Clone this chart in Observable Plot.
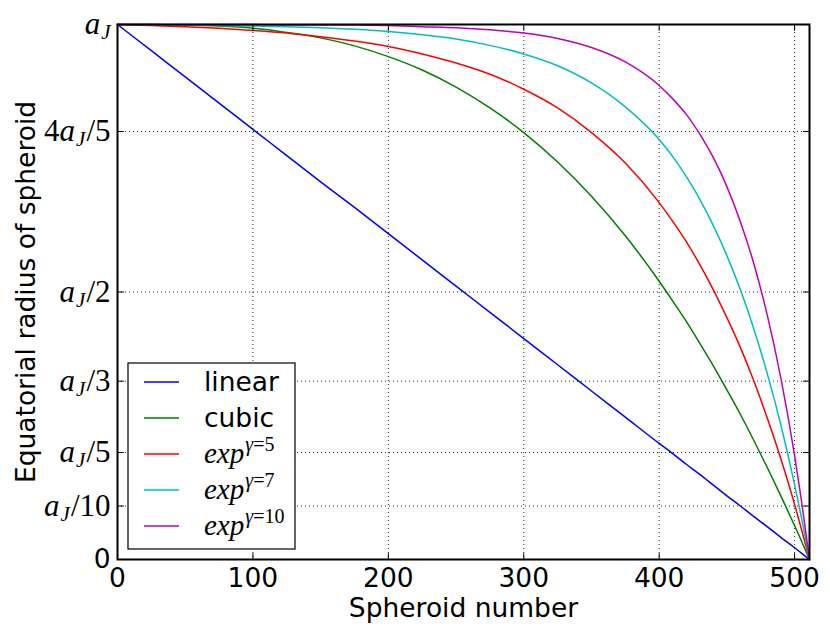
<!DOCTYPE html>
<html><head><meta charset="utf-8">
<script src="https://cdn.jsdelivr.net/npm/d3@7"></script>
<script src="https://cdn.jsdelivr.net/npm/@observablehq/plot@0.6"></script>
<style>body{margin:0;background:#fff;} svg{display:block}</style>
</head><body>
<script>
const spheroid = [0,25,50,75,100,125,150,175,200,225,250,275,300,325,350,375,400,410,420,430,440,450,460,470,480,490,500,505,511];
const linear = [1,0.951,0.902,0.853,0.804,0.755,0.706,0.658,0.609,0.560,0.511,0.462,0.413,0.364,0.315,0.266,0.217,0.198,0.178,0.159,0.139,0.119,0.100,0.080,0.061,0.041,0.022,0.012,0];
const cubic = [1,1.000,0.999,0.997,0.993,0.985,0.975,0.960,0.940,0.915,0.883,0.844,0.798,0.743,0.679,0.605,0.520,0.483,0.445,0.404,0.362,0.317,0.271,0.222,0.171,0.118,0.063,0.035,0];
const exp5 = [1,0.998,0.996,0.993,0.989,0.984,0.977,0.969,0.959,0.945,0.928,0.907,0.879,0.844,0.798,0.741,0.667,0.632,0.594,0.551,0.504,0.452,0.396,0.333,0.263,0.187,0.103,0.057,0];
const exp7 = [1,1.000,0.999,0.998,0.997,0.996,0.994,0.991,0.987,0.981,0.973,0.961,0.945,0.923,0.891,0.846,0.785,0.753,0.716,0.673,0.624,0.568,0.504,0.430,0.346,0.250,0.140,0.079,0];
const exp10 = [1,1.000,1.000,1.000,1.000,0.999,0.999,0.999,0.998,0.996,0.994,0.990,0.984,0.974,0.957,0.930,0.886,0.861,0.832,0.795,0.751,0.697,0.631,0.552,0.455,0.337,0.194,0.111,0];

const seriesNames = ["linear","cubic","exp5","exp7","exp10"];
const seriesColors = ["#0000ff","#008000","#ff0000","#00bfbf","#bf00bf"];
const legendLabels = ["linear","cubic","exp^γ=5","exp^γ=7","exp^γ=10"];
const xTicks = [0,100,200,300,400,500];
const yTicks = [0,0.1,0.2,1/3,0.5,0.8,1];
const yTickLabels = ["0","a_J/10","a_J/5","a_J/3","a_J/2","4a_J/5","a_J"];
const xLabel = "Spheroid number";
const yLabel = "Equatorial radius of spheroid";

const seriesValues = [linear, cubic, exp5, exp7, exp10];
const table = [];
seriesValues.forEach((vals, s) => vals.forEach((v, i) => table.push({x: spheroid[i], y: v, series: seriesNames[s]})));

const FS = 26.5;
const tickShape = {draw(ctx, l) { ctx.moveTo(0, 0); ctx.lineTo(0, -l); }};
const gridStyle = {stroke: "black", strokeOpacity: 0.85, strokeDasharray: "1,3", strokeWidth: 1};
const tickStyle = {length: 6, anchor: "start", shape: tickShape, stroke: "black", strokeWidth: 1};

const plot = Plot.plot({
  width: 830, height: 637,
  marginTop: 24, marginRight: 21, marginBottom: 78, marginLeft: 117,
  style: {fontFamily: "DejaVu Sans", fontSize: FS + "px", color: "black", background: "white"},
  x: {domain: [0, 511]},
  y: {domain: [0, 1]},
  color: {domain: seriesNames, range: seriesColors},
  marks: [
    Plot.gridX(xTicks.slice(1), gridStyle),
    Plot.gridY(yTicks.slice(1, -1), gridStyle),
    Plot.line(table, {x: "x", y: "y", z: "series", stroke: "series", strokeWidth: 1.5, curve: "monotone-x"}),
    Plot.vector(xTicks, {x: d => d, y: 0, rotate: 0, ...tickStyle}),
    Plot.vector(xTicks, {x: d => d, y: 1, rotate: 180, ...tickStyle}),
    Plot.vector(yTicks, {y: d => d, x: 0, rotate: 90, ...tickStyle}),
    Plot.vector(yTicks, {y: d => d, x: 511, rotate: -90, ...tickStyle}),
    Plot.frame({stroke: "black", strokeWidth: 2}),
    Plot.axisX(xTicks, {tickSize: 0, tickPadding: 9, label: null, fontSize: FS}),
    Plot.axisY(yTicks, {tickSize: 0, tickPadding: 7, label: null, fontSize: FS,
      tickFormat: d => yTickLabels[yTicks.indexOf(d)]}),
    Plot.text([xLabel], {frameAnchor: "bottom", lineAnchor: "middle", textAnchor: "middle", dy: 49, fontSize: FS}),
    Plot.text([yLabel], {frameAnchor: "left", lineAnchor: "middle", textAnchor: "middle", dx: -91, rotate: -90, fontSize: FS})
  ]
});
document.body.appendChild(plot);

const svg = d3.select(plot.tagName.toLowerCase() === "svg" ? plot : plot.querySelector("svg"));

// math-style y tick labels
svg.selectAll('g[aria-label="y-axis tick label"] text').each(function() {
  const s = this.textContent;
  if (!s.includes("a_J")) return;
  const [pre, post] = s.split("a_J");
  const t = d3.select(this).text("").attr("font-family", "Liberation Serif").attr("font-size", 31);
  if (pre) t.append("tspan").text(pre);
  t.append("tspan").attr("font-style", "italic").text("a");
  t.append("tspan").attr("font-style", "italic").attr("font-size", 21).attr("dy", 5).attr("dx", 1).text("J");
  if (post) t.append("tspan").attr("dy", -5).attr("dx", 1).text(post);
});

// legend
const lg = svg.append("g").attr("text-anchor", "start");
lg.append("rect").attr("x", 128).attr("y", 363).attr("width", 167).attr("height", 186)
  .attr("fill", "white").attr("stroke", "black").attr("stroke-width", 1.2);
legendLabels.forEach((lab, i) => {
  const cy = 382 + i * 36;
  lg.append("line").attr("x1", 144).attr("x2", 179).attr("y1", cy).attr("y2", cy)
    .attr("stroke", seriesColors[i]).attr("stroke-width", 1.5);
  const t = lg.append("text").attr("x", 204).attr("y", cy + 9).attr("text-anchor", "start");
  if (lab.includes("^")) {
    const [base, sup] = lab.split("^");
    t.attr("font-family", "Liberation Serif").attr("font-size", 29);
    t.append("tspan").attr("font-style", "italic").text(base);
    t.append("tspan").attr("font-style", "italic").attr("font-size", 20).attr("dy", -12).attr("dx", 1).text(sup[0]);
    t.append("tspan").attr("font-size", 20).text(sup.slice(1));
  } else {
    t.attr("font-family", "DejaVu Sans").attr("font-size", FS).text(lab);
  }
});
</script>
</body></html>
